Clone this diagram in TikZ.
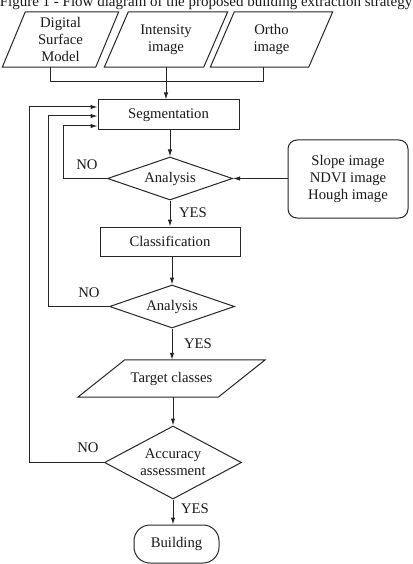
\documentclass[tikz,border=0pt]{standalone}
\usepackage{fontspec}
\setmainfont{Liberation Serif}
\usetikzlibrary{shapes.geometric,arrows.meta}
\begin{document}
\begin{tikzpicture}[x=1pt,y=-1pt,
  every node/.style={font=\fontsize{14.7}{17}\selectfont, text=black!90},
  flow/.style={line width=1pt, draw=black!85},
  arr/.style={flow, -{Latex[length=7pt,width=4.5pt]}},
  procbox/.style={rectangle, draw=black!85, line width=1pt, inner sep=0pt, minimum height=30pt},
  decision/.style={diamond, draw=black!85, line width=1pt, inner sep=0pt, aspect=2},
  iotext/.style={rectangle, inner sep=0pt, minimum height=55pt, align=center},
  lbl/.style={inner sep=0pt},
]
\useasboundingbox (0,0) rectangle (412,564);

\node[font=\fontsize{15}{17}\selectfont, anchor=base, inner sep=0pt] (title) at (206,6.5)
  {Figure 1 - Flow diagram of the proposed building extraction strategy};

% inputs (parallelograms drawn around text nodes)
\node[iotext, minimum width=93pt] (dsm) at (60.5,39.5) {Digital\\Surface\\Model};
\node[iotext, minimum width=99pt] (int) at (166,39.5) {Intensity\\image};
\node[iotext, minimum width=98pt] (ort) at (271.5,39.5) {Ortho\\image};
\foreach \n/\s in {dsm/11.5, int/12, ort/12}{
  \draw[flow] ([xshift=\s pt]\n.north west) -- ([xshift=\s pt]\n.north east)
    -- ([xshift=-\s pt]\n.south east) -- ([xshift=-\s pt]\n.south west) -- cycle;
}

% process
\node[procbox, minimum width=141pt] (seg) at (168.5,115) {Segmentation};
\node[decision, minimum width=125pt, minimum height=43pt] (an1) at (170,178.5) {Analysis};
\node[rectangle, rounded corners=9pt, draw=black!85, line width=1pt, minimum width=120pt,
  minimum height=78pt, align=center, inner sep=0pt] (aux) at (348,179)
  {Slope image\\NDVI image\\Hough image};
\node[procbox, minimum width=140pt, minimum height=29pt] (cls) at (170,241.5) {Classification};
\node[decision, minimum width=125pt, minimum height=43pt] (an2) at (172,306.5) {Analysis};
\node[rectangle, inner sep=0pt, minimum height=37pt, minimum width=140pt]
  (tgt) at (171.5,378.5) {Target classes\hspace{16pt}};
\draw[flow] ([xshift=23.5pt]tgt.north west) -- ([xshift=23.5pt]tgt.north east)
  -- ([xshift=-23.5pt]tgt.south east) -- ([xshift=-23.5pt]tgt.south west) -- cycle;
\node[decision, minimum width=137pt, minimum height=73pt, align=center] (acc) at (173,462.5)
  {Accuracy\\assessment};
\node[rectangle, rounded corners=16pt, draw=black!85, line width=1pt, minimum width=85pt,
  minimum height=38pt, inner sep=0pt] (bld) at (176.5,544) {Building};

% bus from inputs
\coordinate (busL) at (50,82);
\coordinate (busM) at (166,82);
\coordinate (busR) at (263,82);
\draw[flow] (dsm.south -| busL) -- (busL) -- (busR) -- (ort.south -| busR);
\draw[flow] (int.south) -- (busM);
\draw[arr] (busM) -- (seg.north -| busM);

% main chain
\draw[arr] (seg.south -| an1) -- (an1.north);
\draw[arr] (aux.west |- an1) -- (an1.east);
\draw[arr] (an1.south) -- (cls.north -| an1);
\draw[arr] (cls.south -| an2) -- (an2.north);
\draw[arr] (an2.south) -- (tgt.north -| an2);
\draw[arr] (tgt.south -| acc) -- (acc.north);
\draw[arr] (acc.south) -- (bld.north -| acc);

% feedback loops
\coordinate (f1) at (63,126);
\coordinate (f2) at (48,116);
\coordinate (f3) at (29,107);
\draw[arr] (an1.west) -| (f1) -- (seg.west |- f1);
\draw[arr] (an2.west) -| (f2) -- (seg.west |- f2);
\draw[arr] (acc.west) -| (f3) -- (seg.west |- f3);

% labels
\node[lbl] (no1) at (87,165) {NO};
\node[lbl] (yes1) at (193,213) {YES};
\node[lbl] (no2) at (89,293) {NO};
\node[lbl] (yes2) at (198,344) {YES};
\node[lbl] (no3) at (88,448) {NO};
\node[lbl] (yes3) at (195,509) {YES};
\end{tikzpicture}
\end{document}
